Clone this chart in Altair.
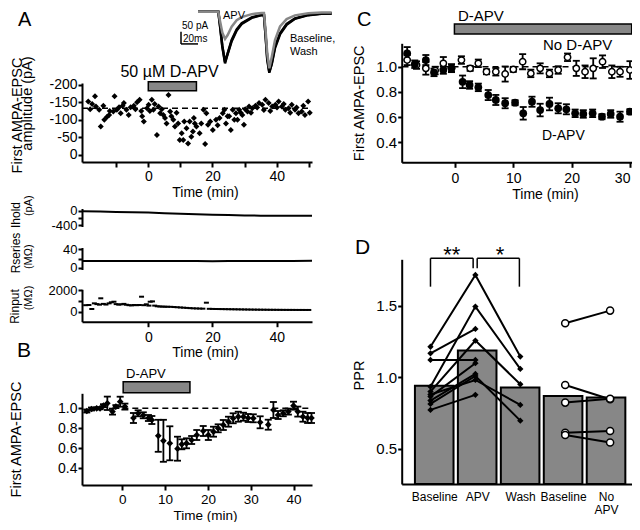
import altair as alt
import pandas as pd

W, H = 624, 514
FONT = "Liberation Sans"
GRAY = "#878787"
ONE = pd.DataFrame({"k": [0]})

# ---------------- Panel A : first AMPA-EPSC amplitude (pA) ----------------
a_time = [-18.7, -16.6, -18.1, -16.3, -15.3, -14.8, -13.7, -12.9, -12.2, -10.9, -10.5, -9.8, -9.1, -8.6,
          -7.6, -6.8, -6.1, -5.5, -4.5, -3.5, -2.7, -1.9, -1.4, -0.4, 0.1, 1.1, 1.6, 2.7, 3.2, 3.7, 4.7,
          5.7, 6.3, 6.8, 7.8, 8.3, 9.3, 9.8, 10.4, 10.9, 11.9, 12.4, 12.9, 13.4, 13.9, 14.5, 15.0, 16.0,
          17.7, 17.2, 18.1, 18.6, 20.1, 21.1, 22.2, 23.2, 23.7, 24.2, 25.2, 25.7, 26.3, 27.3, 27.8, 28.3,
          29.3, 29.8, 30.9, 31.4, 32.4, 33.4, 34.5, 35.5, 36.5, 37.5, 38.6, 39.6, 40.6, 41.6, 42.7, 43.7,
          44.7, 45.7, 46.8, 47.8, 48.8, 49.8,
          -17.5, -14.0, -12.0, -8.0, -4.0, -2.2, 0.5, 2.0, 4.2, 5.2, 7.2, 8.8, 11.2, 14.2, 16.5, 19.3,
          21.6, 24.7, 26.8, 28.8, 30.2, 32.0, 33.9, 36.0, 38.0, 40.1, 42.2, 44.2, 46.2, 48.3, 50.3]
a_amp = [-152, -167, -130, -138, -129, -81, -100, -108, -114, -124, -167, -129, -136, -119,
         -148, -129, -114, -136, -140, -150, -157, -110, -95, -133, -143, -157, -129, -57, -138, -119, -114,
         -90, -171, -124, -100, -81, -90, -43, -62, -43, -76, -33, -95, -52, -67, -90, -81, -62,
         -31, -129, -119, -86, -71, -100, -105, -119, -129, -90, -110, -71, -129, -119, -100, -129,
         -114, -86, -124, -138, -133, -140, -148, -143, -157, -148, -138, -143, -152, -138, -129, -133,
         -143, -129, -119, -124, -114, -152,
         -145, -140, -125, -140, -130, -125, -125, -145, -130, -105, -110, -120, -95, -105, -90, -95,
         -85, -110, -100, -120, -130, -120, -135, -128, -125, -135, -145, -120, -135, -140, -120]
a_ref_level = -133
a_drug = [0, 15]

# ---------------- Inset traces (ms, pA) ----------------
tr_ms = [0, 23.9, 26, 28.6, 31.8, 34.9, 39.6, 45.5, 51.4, 63.2, 74.9, 77.6, 79.6, 81.5, 83.9, 86.7,
         90.6, 96.5, 104.3, 114.1, 129.8, 145.5, 157.3]
tr_baseline = [0, 0, -61, -142, -210, -169, -115, -72, -47, -23, -13, -13, -102, -196, -248, -210,
               -142, -88, -50, -27, -13, -7, -7]
tr_wash = [0, 0, -58, -138, -204, -172, -120, -76, -50, -25, -14, -14, -98, -190, -244, -214,
           -148, -92, -53, -29, -14, -8, -7]
tr_apv = [0, 0, -40, -85, -111, -95, -61, -35, -22, -10, -5, -5, -80, -170, -230, -185,
          -115, -60, -30, -15, -6, -3, -3]
sb_ms, sb_pa = 20, 50

# ---------------- Ihold / Rseries / Rinput ----------------
ih_t = [-20.5, -15, -10, -5, 0, 5, 10, 15, 20, 25, 30, 35, 40, 45, 51]
ih_v = [-10, -17, -25, -33, -45, -60, -75, -90, -105, -115, -125, -130, -132, -134, -135]
rs_t = [-20.5, -15, -10, -5, 0, 5, 10, 15, 20, 25, 30, 35, 40, 45, 51]
rs_v = [14.5, 14.6, 14.4, 14.5, 14.3, 14.4, 14.2, 14.3, 14.1, 14.2, 14.4, 14.5, 14.6, 14.7, 14.8]
ri_t = [-19.5, -18.5, -17.6, -16.8, -16.0, -15.2, -14.8, -14.0, -13.2, -12.2, -11.5, -10.7, -10.0,
        -9.2, -8.4, -7.6, -6.8, -6.0, -5.2, -4.4, -3.6, -2.8, -2.1, -1.4, -0.6, 0.2, 0.6, 1.3, 2.0,
        2.8, 3.6, 4.4, 5.2, 6, 7, 8, 9, 10, 11, 12, 13, 14, 15, 16, 17, 18.1, 19, 20, 21, 22,
        23, 24, 25, 26, 27, 28, 29, 30, 31, 32, 33, 34, 35, 36, 37, 38, 39, 40, 41, 42, 43, 44,
        45, 46, 47, 48, 49, 50]
ri_v = [600, 617, 250, 770, 700, 650, 1235, 720, 660, 770, 866, 920, 700, 650, 680, 720, 640, 600,
        580, 620, 600, 620, 1382, 600, 682, 560, 920, 950, 560, 500, 480, 470, 460, 455, 450, 430,
        410, 390, 370, 350, 330, 310, 300, 290, 280, 830, 265, 255, 250, 245,
        240, 235, 230, 225, 220, 215, 210, 205, 200, 196, 192, 188, 185, 182, 179, 176, 174, 172,
        170, 168, 166, 165, 164, 163, 162, 161, 160, 160]

# ---------------- Panel B ----------------
b_t = [-8.3, -7.2, -6.0, -5.2, -4.4, -3.5, -2.3, -1.5, -0.5, 0.6, 2.6, 3.7, 4.9, 6.1, 6.9, 8.4, 9.6,
       11.1, 12.9, 13.9, 15.0, 16.2, 17.4, 18.9, 20.1, 21.3, 22.4, 23.6, 24.8, 25.9, 27.1, 28.3, 29.4,
       30.6, 32.2, 34.1, 35.3, 36.4, 37.6, 38.8, 40.0, 41.0, 42.2, 43.3, 44.2]
b_v = [0.973, 0.993, 1.0, 1.0, 1.026, 1.05, 0.967, 1.017, 1.066, 1.017, 0.903, 0.95, 0.93, 0.903,
       0.883, 0.725, 0.675, 0.65, 0.596, 0.64, 0.65, 0.683, 0.733, 0.773, 0.733, 0.766, 0.8, 0.833,
       0.866, 0.9, 0.916, 0.916, 0.903, 0.9, 0.86, 0.836, 0.983, 0.933, 0.95, 0.967, 1.026, 0.967,
       0.916, 0.903, 0.903]
b_e = [0.015, 0.015, 0.01, 0.01, 0.015, 0.067, 0.03, 0.015, 0.05, 0.03, 0.05, 0.03, 0.03, 0.03, 0.04,
       0.16, 0.21, 0.17, 0.12, 0.05, 0.05, 0.04, 0.05, 0.05, 0.05, 0.05, 0.04, 0.05, 0.05, 0.05, 0.05,
       0.04, 0.04, 0.04, 0.06, 0.05, 0.08, 0.04, 0.03, 0.03, 0.04, 0.05, 0.05, 0.05, 0.05]
b_drug = [0.2, 15.8]

# ---------------- Panel C ----------------
c_apv_t = [-8.2, -6.9, -5.0, -3.6, -2.0, -0.6, 1.3, 2.5, 4.0, 5.7, 7.0, 8.6, 10.3, 11.7, 13.2, 14.6,
           16.2, 17.7, 19.1, 20.6, 22.0, 23.6, 25.2, 26.7, 28.3, 30.0]
c_apv_v = [1.106, 1.02, 1.053, 0.955, 0.974, 0.987, 0.88, 0.855, 0.836, 0.775, 0.736, 0.71, 0.714, 0.63,
           0.722, 0.656, 0.704, 0.67, 0.662, 0.63, 0.625, 0.63, 0.603, 0.625, 0.603, 0.643]
c_apv_e = [0.05, 0.03, 0.04, 0.03, 0.03, 0.03, 0.05, 0.03, 0.03, 0.04, 0.04, 0.04, 0.02, 0.05, 0.04, 0.05,
           0.05, 0.04, 0.04, 0.03, 0.03, 0.03, 0.02, 0.03, 0.04, 0.02]
c_ctl_t = [-8.2, -6.6, -5.0, -3.4, -2.0, -0.6, 1.1, 2.6, 4.0, 5.4, 7.0, 8.6, 10.0, 11.6, 13.0, 14.6,
           16.2, 17.7, 19.3, 20.8, 22.3, 23.7, 25.3, 26.9, 28.3, 30.0]
c_ctl_v = [1.053, 1.013, 0.987, 0.97, 1.027, 0.99, 1.053, 0.987, 1.027, 0.96, 0.96, 0.942, 0.979, 1.04,
           0.947, 0.987, 0.947, 0.974, 1.075, 0.987, 0.96, 0.987, 1.04, 0.96, 0.96, 0.974]
c_ctl_e = [0.04, 0.03, 0.05, 0.03, 0.05, 0.03, 0.03, 0.02, 0.03, 0.02, 0.03, 0.06, 0.02, 0.06, 0.03, 0.04,
           0.03, 0.03, 0.03, 0.06, 0.05, 0.08, 0.05, 0.05, 0.04, 0.07]
c_drug = [-0.1, 30.3]

# ---------------- Panel D : PPR ----------------
d_labels = ["Baseline", "APV", "Wash", "Baseline", "No APV"]
d_means = [0.941, 1.186, 0.928, 0.869, 0.858]
d_apv_cells = [  # baseline, APV, wash
    [1.213, 1.714, 1.144], [0.934, 1.493, 1.058], [0.900, 1.256, 0.951], [0.814, 1.009, 0.697],
    [0.880, 0.981, 0.807], [1.167, 1.337, None], [1.121, 1.121, None], [0.865, 1.098, None],
    [0.837, 1.023, None], [0.772, 0.877, None]]
d_ctl_cells = [[1.377, 1.465], [0.946, 0.846], [0.823, 0.850], [0.613, 0.625], [0.597, 0.544]]


def S(domain, rng):
    return alt.Scale(domain=domain, range=rng, nice=False, zero=False)


AX = dict(domainColor="black", domainWidth=2, tickColor="black", tickWidth=2, labelColor="black",
          titleColor="black", labelFont=FONT, titleFont=FONT, grid=False, labelFlush=False,
          labelOverlap=False, titleFontWeight="normal")


def yaxis(left, values, title, fmt=None, expr=None, lsize=14, tsize=14, tx=-50, ty=0,
          tick=4, pad=1, tbase="bottom"):
    kw = dict(orient="left", offset=-left, values=values, title=title, labelFontSize=lsize,
              titleFontSize=tsize, titleX=tx, titleY=ty, titleAngle=270, titleBaseline=tbase,
              titleAlign="center", tickSize=tick, labelPadding=pad)
    if fmt:
        kw["format"] = fmt
    if expr:
        kw["labelExpr"] = expr
    return alt.Axis(**kw, **AX)


def xaxis(bottom, values, title=None, expr=None, tx=0, ty=34, tick=5, pad=3, lsize=14, tsize=14,
          **extra):
    kw = dict(orient="bottom", offset=bottom - H, values=values, labelFontSize=lsize,
              titleFontSize=tsize, tickSize=tick, labelPadding=pad)
    if title:
        kw.update(title=title, titleX=tx, titleY=ty, titleBaseline="alphabetic")
    else:
        kw["title"] = None
    if expr:
        kw["labelExpr"] = expr
    kw.update(extra)
    return alt.Axis(**kw, **AX)


def text(s, x, y, size=14, align="left", baseline="alphabetic", color="black", angle=0):
    return alt.Chart(ONE).mark_text(text=s, fontSize=size, align=align, baseline=baseline,
                                    font=FONT, color=color, angle=angle).encode(
        x=alt.value(x), y=alt.value(y))


def vtext(s, x, y, size):
    # second line of a rotated axis title (x = baseline position)
    return text(s, x, y, size=size, align="center", baseline="alphabetic", angle=270)


def drug_bar(x0, x1, xs, ytop, ybot):
    return alt.Chart(ONE).mark_rect(fill=GRAY, stroke="black", strokeWidth=1.5).encode(
        x=alt.XDatum(x0, scale=xs, axis=None), x2=alt.X2Datum(x1),
        y=alt.value(ytop), y2=alt.value(ybot))


def hline(x0, x1, yv, xs, ys, dash=(6, 4), width=1.5):
    return alt.Chart(ONE).mark_rule(color="black", strokeWidth=width, strokeDash=list(dash)).encode(
        x=alt.XDatum(x0, scale=xs, axis=None), x2=alt.X2Datum(x1),
        y=alt.YDatum(yv, scale=ys, axis=None))


def vline(xv, y0, y1, xs, ys, width=1.5):
    return alt.Chart(ONE).mark_rule(color="black", strokeWidth=width).encode(
        x=alt.XDatum(xv, scale=xs, axis=None),
        y=alt.YDatum(y0, scale=ys, axis=None), y2=alt.Y2Datum(y1))


def errbars(df, xs, ys, cap=7, width=1.8):
    base = alt.Chart(df)
    x = alt.X("t:Q", scale=xs, axis=None)
    r = base.mark_rule(color="black", strokeWidth=width).encode(
        x=x, y=alt.Y("lo:Q", scale=ys, axis=None), y2="hi:Q")
    c1 = base.mark_tick(orient="horizontal", size=cap, thickness=width, color="black", opacity=1).encode(
        x=x, y=alt.Y("lo:Q", scale=ys, axis=None))
    c2 = base.mark_tick(orient="horizontal", size=cap, thickness=width, color="black", opacity=1).encode(
        x=x, y=alt.Y("hi:Q", scale=ys, axis=None))
    return [r, c1, c2]


units = []

# ---------------- traces inset ----------------
tr_x = S([0, 157.3], [190, 323.7])
tr_y = S([-250, 0], [65.2, 3.7])
tr_df = pd.DataFrame({"ms": tr_ms, "base": tr_baseline, "wash": tr_wash, "apv": tr_apv})


def trace(col, color):
    return alt.Chart(tr_df).mark_line(color=color, strokeWidth=2.5).encode(
        x=alt.X("ms:Q", scale=tr_x, axis=None), y=alt.Y(f"{col}:Q", scale=tr_y, axis=None))


sb_v = alt.Chart(ONE).mark_rule(color="black", strokeWidth=1.5).encode(
    x=alt.XDatum(-sb_ms, scale=tr_x, axis=None),
    y=alt.YDatum(-81, scale=tr_y, axis=None), y2=alt.Y2Datum(-81 - sb_pa))
sb_h = alt.Chart(ONE).mark_rule(color="black", strokeWidth=1.5).encode(
    x=alt.XDatum(-sb_ms, scale=tr_x, axis=None), x2=alt.X2Datum(0),
    y=alt.YDatum(-81 - sb_pa, scale=tr_y, axis=None))
units += [trace("base", "black"), trace("wash", "black"), trace("apv", GRAY), sb_v, sb_h,
          text(f"{sb_pa} pA", 174, 20.5, size=10), text(f"{sb_ms}ms", 175, 33.5, size=10),
          text("APV", 226, 10.5, size=11, align="center"),
          text("Baseline,", 282, 33.5, size=11), text("Wash", 282, 47, size=11)]

# ---------------- Panel A ----------------
xA = S([-20.65, 51.0], [74, 304])
yA = S([-205, 20], [75, 154])
a_df = pd.DataFrame({"t": a_time, "amp": a_amp})
units += [
    hline(-20.65, 51.0, a_ref_level, xA, yA),
    alt.Chart(a_df).mark_point(shape="diamond", filled=True, size=36, color="black", opacity=1).encode(
        x=alt.X("t:Q", scale=xA, axis=xaxis(154, [-10, 0, 10, 20, 30, 40, 50], "Time (min)",
                                            expr="datum.value % 20 == 0 ? datum.label : ''",
                                            tx=197, ty=34, pad=2)),
        y=alt.Y("amp:Q", scale=yA, axis=yaxis(74, [-200, -150, -100, -50, 0], "First AMPA-EPSC",
                                              expr="'' + datum.value", tsize=14.5, tx=-60.5, ty=107,
                                              tbase="alphabetic"))),
    vtext("amplitude (pA)", 24, 95.5, 14.5),
    drug_bar(a_drug[0], a_drug[1], xA, 73.7, 82.7),
    text("50 µM D-APV", 161.5, 69, size=16, align="center")]

# ---------------- Ihold / Rseries / Rinput ----------------
ih_df = pd.DataFrame({"t": ih_t, "v": ih_v})
units += [alt.Chart(ih_df).mark_line(color="black", strokeWidth=2).encode(
    x=alt.X("t:Q", scale=S([-20.65, 51.0], [74, 304]), axis=None),
    y=alt.Y("v:Q", scale=S([-431, 69], [218.5, 200.5]),
            axis=yaxis(74, [0, -200, -400], "Ihold", lsize=13,
                       expr="datum.value == -200 ? '' : '' + datum.value",
                       tsize=12, tx=-62.5, ty=206.5, tbase="alphabetic"))),
    vtext("(pA)", 23.5, 197.7, 11)]
rs_df = pd.DataFrame({"t": rs_t, "v": rs_v})
units += [alt.Chart(rs_df).mark_line(color="black", strokeWidth=2).encode(
    x=alt.X("t:Q", scale=S([-20.65, 51.0], [74, 304]), axis=None),
    y=alt.Y("v:Q", scale=S([-4.4, 44.4], [261.5, 239.5]),
            axis=yaxis(74, [0, 20, 40], "Rseries", lsize=13,
                       expr="datum.value == 20 ? '' : '' + datum.value",
                       tsize=12, tx=-62.5, ty=244.5, tbase="alphabetic"))),
    vtext("(MΩ)", 23.5, 248.7, 11)]
ri_df = pd.DataFrame({"t": ri_t, "v": ri_v})
units += [alt.Chart(ri_df).mark_tick(orient="horizontal", size=5, thickness=2, color="black",
                                     opacity=1).encode(
    x=alt.X("t:Q", scale=S([-20.65, 51.0], [74, 304]),
            axis=xaxis(313.7, [0, 20, 40], "Time (min)", tx=197, ty=35, pad=4)),
    y=alt.Y("v:Q", scale=S([-922, 2065], [313.7, 281.3]),
            axis=yaxis(74, [0, 1000, 2000], "Rinput", lsize=13,
                       expr="datum.value == 1000 ? '' : '' + datum.value",
                       tsize=12, tx=-63.5, ty=298, tbase="alphabetic"))),
    vtext("(MΩ)", 23.5, 290, 11)]

# ---------------- Panel B ----------------
xB = S([-9.42, 44.32], [74, 304])
yB = S([0.233, 1.15], [477, 385.3])
b_df = pd.DataFrame({"t": b_t, "v": b_v, "e": b_e})
b_df["lo"] = b_df["v"] - b_df["e"]
b_df["hi"] = b_df["v"] + b_df["e"]
units += [
    hline(0.0, 44.0, 1.0, xB, yB),
    *errbars(b_df, xB, yB),
    alt.Chart(b_df).mark_point(shape="diamond", filled=True, size=45, color="black", opacity=1).encode(
        x=alt.X("t:Q", scale=xB, axis=xaxis(477, [0, 10, 20, 30, 40], "Time (min)", tx=197, ty=34.5,
                                            pad=2, lsize=13.5, tsize=13.5)),
        y=alt.Y("v:Q", scale=yB, axis=yaxis(74, [0.4, 0.6, 0.8, 1.0], "First AMPA-EPSC", fmt=".1f",
                                            tsize=14.5, tx=-59, ty=431))),
    drug_bar(b_drug[0], b_drug[1], xB, 373.7, 384.7),
    text("D-APV", 118, 370, size=13)]

# ---------------- Panel C ----------------
xC = S([-9.14, 30.3], [393.7, 623.7])
yC = S([0.241, 1.186], [154.3, 35.3])
c1_df = pd.DataFrame({"t": c_apv_t, "v": c_apv_v, "e": c_apv_e})
c2_df = pd.DataFrame({"t": c_ctl_t, "v": c_ctl_v, "e": c_ctl_e})
for df in (c1_df, c2_df):
    df["lo"] = df["v"] - df["e"]
    df["hi"] = df["v"] + df["e"]
c_last_align = {"condition": {"test": "datum.value == 30", "value": "right"}, "value": "center"}
units += [
    hline(-9.0, 31.5, 1.0, xC, yC),
    *errbars(c2_df, xC, yC),
    *errbars(c1_df, xC, yC),
    alt.Chart(c2_df).mark_point(shape="circle", filled=True, fill="white", stroke="black",
                                strokeWidth=1.5, size=40, opacity=1).encode(
        x=alt.X("t:Q", scale=xC, axis=xaxis(154.3, [0, 10, 20, 30], "Time (min)", tx=537, ty=36, pad=4,
                                            labelAlign=c_last_align)),
        y=alt.Y("v:Q", scale=yC, axis=yaxis(393.7, [0.4, 0.6, 0.8, 1.0], "First AMPA-EPSC", fmt=".1f",
                                            lsize=15, tsize=14.5, tx=-35, ty=94.8))),
    alt.Chart(c1_df).mark_point(shape="circle", filled=True, color="black", size=60, opacity=1).encode(
        x=alt.X("t:Q", scale=xC, axis=None), y=alt.Y("v:Q", scale=yC, axis=None)),
    drug_bar(c_drug[0], c_drug[1], xC, 16, 26),
    text("D-APV", 450, 13, size=15),
    text("No D-APV", 535, 42, size=15),
    text("D-APV", 534, 132, size=14)]

# ---------------- Panel D ----------------
xD = S([0.359, 5.481], [393.7, 623.7])
yD = S([0.255, 1.823], [476, 251.3])
d_bar_df = pd.DataFrame({"pos": list(range(1, len(d_labels) + 1)), "mean": d_means})
rows = []
for i, cell in enumerate(d_apv_cells):
    for j, v in enumerate(cell):
        if v is not None:
            rows.append({"cell": i, "pos": j + 1, "v": v})
d_apv_df = pd.DataFrame(rows)
rows = []
for i, cell in enumerate(d_ctl_cells):
    for j, v in enumerate(cell):
        rows.append({"cell": i, "pos": j + 4, "v": v})
d_ctl_df = pd.DataFrame(rows)


def label_expr(labels):
    out = ""
    for i, lab in enumerate(labels, 1):
        words = lab.split(" ")
        s = "[" + ",".join(f"'{w}'" for w in words) + "]" if len(words) > 1 else f"'{lab}'"
        out += f"datum.value == {i} ? {s} : "
    return out + "''"


units += [
    alt.Chart(d_bar_df).mark_bar(size=38.6, fill=GRAY, stroke="black", strokeWidth=2).encode(
        x=alt.X("pos:Q", scale=xD, axis=xaxis(476, [1, 2, 3, 4, 5], None, expr=label_expr(d_labels),
                                              tick=0, pad=12.5, lsize=12, ticks=False,
                                              labelBaseline="middle", labelLineHeight=13)),
        y=alt.Y("mean:Q", scale=yD, axis=yaxis(393.7, [0.5, 1.0, 1.5], "PPR", fmt=".1f", lsize=15,
                                               tsize=14.5, tx=-35, ty=367)),
        y2=alt.Y2Datum(0.255)),
    alt.Chart(d_apv_df).mark_line(color="black", strokeWidth=2).encode(
        x=alt.X("pos:Q", scale=xD, axis=None), y=alt.Y("v:Q", scale=yD, axis=None), detail="cell:N"),
    alt.Chart(d_apv_df).mark_point(shape="diamond", filled=True, size=40, color="black", opacity=1).encode(
        x=alt.X("pos:Q", scale=xD, axis=None), y=alt.Y("v:Q", scale=yD, axis=None)),
    alt.Chart(d_ctl_df).mark_line(color="black", strokeWidth=2).encode(
        x=alt.X("pos:Q", scale=xD, axis=None), y=alt.Y("v:Q", scale=yD, axis=None), detail="cell:N"),
    alt.Chart(d_ctl_df).mark_point(shape="circle", filled=True, fill="white", stroke="black",
                                   strokeWidth=1.5, size=50, opacity=1).encode(
        x=alt.X("pos:Q", scale=xD, axis=None), y=alt.Y("v:Q", scale=yD, axis=None)),
    vline(1.0, 1.632, 1.83, xD, yD), hline(1.0, 1.95, 1.83, xD, yD, dash=(1, 0)),
    vline(1.95, 1.76, 1.83, xD, yD),
    vline(2.04, 1.76, 1.83, xD, yD), hline(2.04, 2.98, 1.83, xD, yD, dash=(1, 0)),
    vline(2.98, 1.632, 1.83, xD, yD),
    text("**", 443.7, 254, size=22, align="center"),
    text("*", 492, 254, size=22, align="center")]

units += [text("A", 10, 18.2, size=20), text("B", 9, 349, size=21),
          text("C", 349, 18.2, size=20), text("D", 347, 246, size=21)]

chart = alt.layer(*units).resolve_scale(x="independent", y="independent").properties(
    width=W, height=H, padding=0, autosize=alt.AutoSizeParams(type="none")).configure_view(stroke=None)

chart.save("out.html", embed_options={"renderer": "svg", "actions": False})
